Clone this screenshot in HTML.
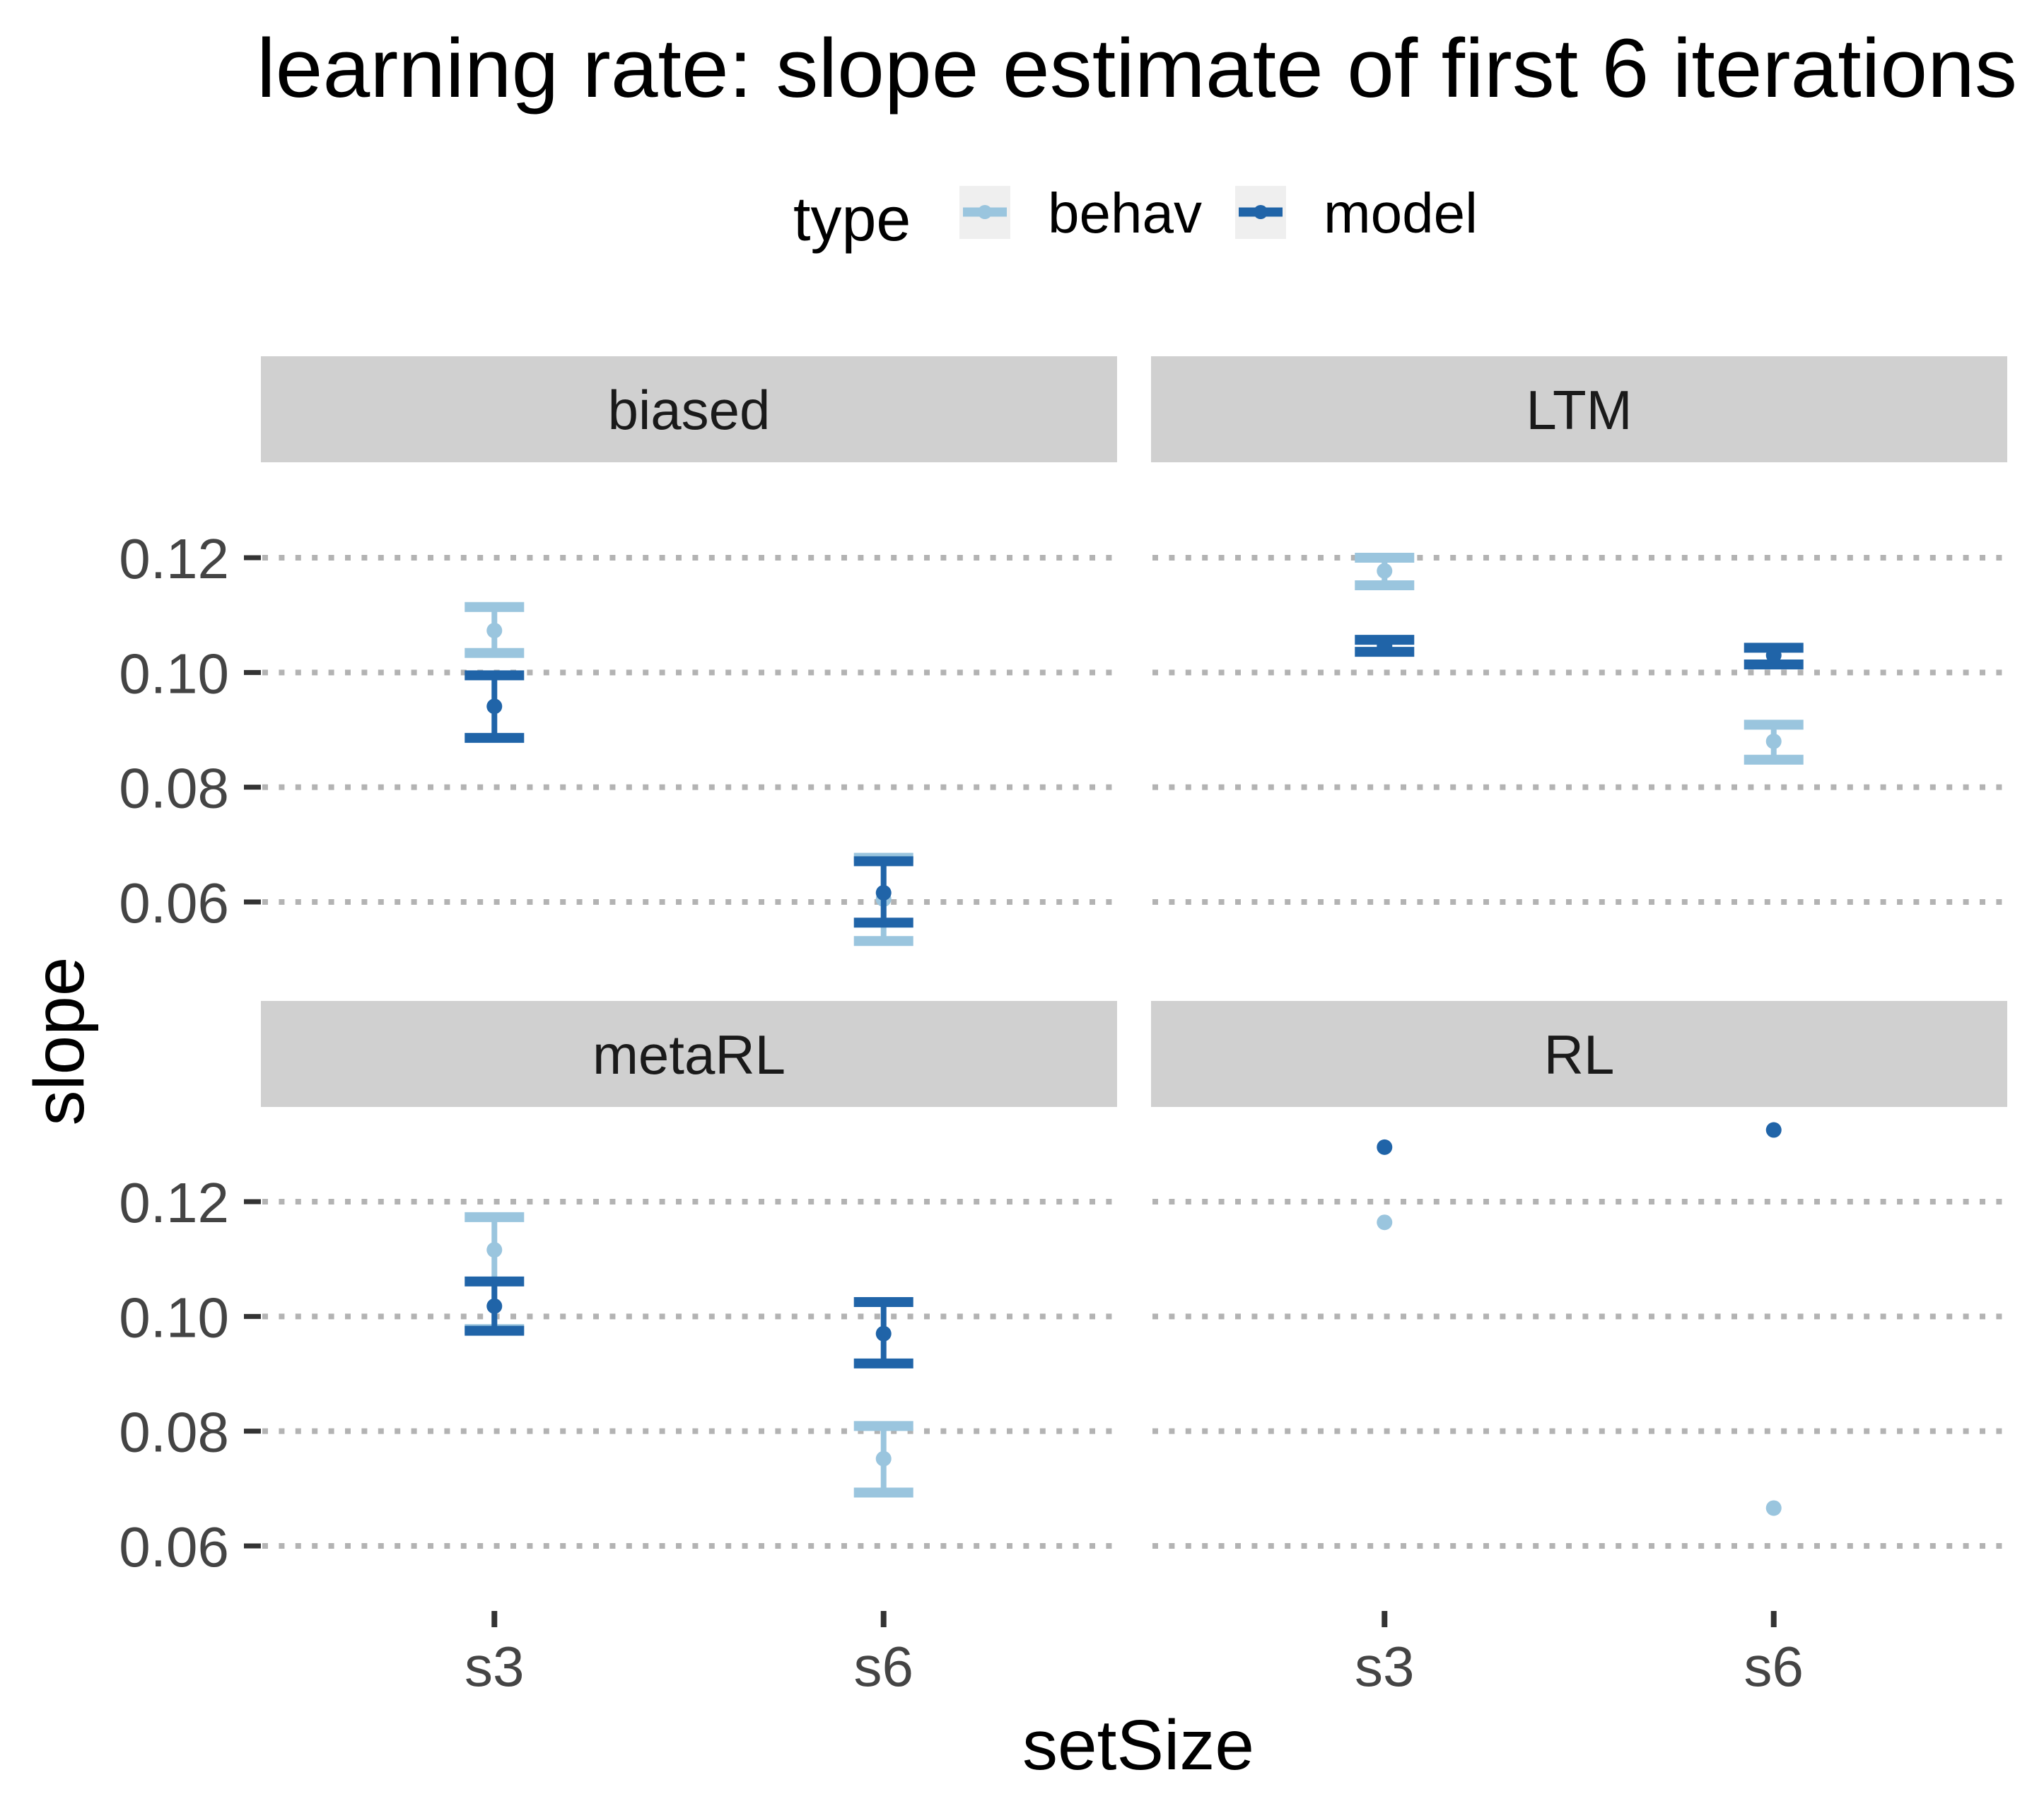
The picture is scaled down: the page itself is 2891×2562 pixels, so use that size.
<!DOCTYPE html>
<html><head><meta charset="utf-8"><style>
html,body{margin:0;padding:0;background:#fff;}
svg{display:block;font-family:"Liberation Sans",Arial,sans-serif;}
</style></head><body>
<svg id="chart" width="2891" height="2562" viewBox="0 0 2891 2562" xmlns="http://www.w3.org/2000/svg">
<rect width="2891" height="2562" fill="#fff"/>
<text x="363" y="137" font-size="118" textLength="2490" lengthAdjust="spacingAndGlyphs" fill="#000">learning rate: slope estimate of first 6 iterations</text>
<g>
<text x="1122" y="340" font-size="88" fill="#000">type</text>
<g>
<rect x="1357" y="263" width="72" height="75" fill="#efefef"/>
<line x1="1362" y1="300" x2="1424" y2="300" stroke="#9ac5de" stroke-width="13"/>
<circle cx="1393" cy="300" r="10" fill="#9ac5de"/>
<text x="1482" y="329" font-size="80" fill="#000">behav</text>
</g>
<g>
<rect x="1747" y="263" width="72" height="75" fill="#efefef"/>
<line x1="1752" y1="300" x2="1814" y2="300" stroke="#2064a8" stroke-width="13"/>
<circle cx="1783" cy="300" r="10" fill="#2064a8"/>
<text x="1872" y="329" font-size="80" fill="#000">model</text>
</g>
</g>
<text x="1610" y="2503" font-size="100" text-anchor="middle" fill="#000">setSize</text>
<text x="0" y="0" font-size="100" text-anchor="middle" fill="#000" transform="translate(118,1473) rotate(-90)">slope</text>
<g id="panels"></g>
</svg>
<script>
const panelNames = ["biased", "LTM", "metaRL", "RL"];
const categories = ["s3", "s6"];
const yTicks = [0.06, 0.08, 0.10, 0.12];
const yTickLabels = ["0.06", "0.08", "0.10", "0.12"];
// per panel, [s3, s6]; null = no error bar
const behavMean  = [[0.1073, 0.0605], [0.1177, 0.0880], [0.1116, 0.0752], [0.1164, 0.0666]];
const behavUpper = [[0.1114, 0.0677], [0.1200, 0.0909], [0.1173, 0.0809], [null, null]];
const behavLower = [[0.1034, 0.0532], [0.1152, 0.0848], [0.0978, 0.0693], [null, null]];
const modelMean  = [[0.0941, 0.0616], [0.1046, 0.1030], [0.1018, 0.0970], [0.1295, 0.1325]];
const modelUpper = [[0.0995, 0.0671], [0.1057, 0.1043], [0.1061, 0.1025], [null, null]];
const modelLower = [[0.0886, 0.0564], [0.1036, 0.1014], [0.0975, 0.0918], [null, null]];

const NS = "http://www.w3.org/2000/svg";
const root = document.getElementById("panels");
const colX = [369, 1628], panelW = 1211;
const stripTop = [504, 1416], stripH = 150;
const ref12 = [789, 1700], perUnit = 8117;
function mk(tag, attrs, parent) {
  const e = document.createElementNS(NS, tag);
  for (const k in attrs) e.setAttribute(k, attrs[k]);
  parent.appendChild(e);
  return e;
}
function xScale(col, i) { return colX[col] + panelW * (i + 0.6) / 2.2; }
function yScale(row, v) { return ref12[row] + (0.12 - v) * perUnit; }

panelNames.forEach((name, p) => {
  const col = p % 2, row = Math.floor(p / 2);
  const g = mk("g", {}, root);
  
  
  const strip = mk("rect", {x: colX[col], y: stripTop[row], width: panelW, height: stripH, fill: "#d0d0d0"}, g);
  
  
  const st = mk("text", {x: colX[col] + panelW / 2, y: stripTop[row] + 103, "font-size": 78, "text-anchor": "middle", fill: "#1a1a1a"}, g);
  st.textContent = name;
  
  
  yTicks.forEach((t, k) => {
    const y = yScale(row, t);
    const gl = mk("line", {x1: colX[col] + 2, x2: colX[col] + panelW, y1: y, y2: y, stroke: "#b3b3b3", "stroke-width": 8, "stroke-dasharray": "8 15.4"}, g);
    
    
    if (col === 0) {
      const tk = mk("line", {x1: 345, x2: 369, y1: y, y2: y, stroke: "#333", "stroke-width": 7}, g);
      
      
      const tl = mk("text", {x: 324, y: y + 29, "font-size": 80, "text-anchor": "end", fill: "#444"}, g);
      tl.textContent = yTickLabels[k];
      
      
    }
  });
  if (row === 1) {
    categories.forEach((c, i) => {
      const x = xScale(col, i);
      const tk = mk("line", {x1: x, x2: x, y1: 2279, y2: 2302, stroke: "#333", "stroke-width": 8}, g);
      
      
      const tl = mk("text", {x: x, y: 2385, "font-size": 80, "text-anchor": "middle", fill: "#444"}, g);
      tl.textContent = c;
      
      
    });
  }
  const series = [
    ["behav", "#9ac5de", behavMean, behavUpper, behavLower],
    ["model", "#2064a8", modelMean, modelUpper, modelLower]
  ];
  series.forEach(([sn, color, mean, up, lo]) => {
    categories.forEach((c, i) => {
      const x = xScale(col, i);
      if (up[p][i] !== null) {
        const yu = yScale(row, up[p][i]), yl = yScale(row, lo[p][i]);
        const eg = mk("g", {stroke: color}, g);
        
        
        mk("line", {x1: x, x2: x, y1: yu, y2: yl, "stroke-width": 8}, eg);
        mk("line", {x1: x - 42, x2: x + 42, y1: yu, y2: yu, "stroke-width": 14}, eg);
        mk("line", {x1: x - 42, x2: x + 42, y1: yl, y2: yl, "stroke-width": 14}, eg);
      }
      const pt = mk("circle", {cx: x, cy: yScale(row, mean[p][i]), r: 11, fill: color}, g);
      
      
    });
  });
});
</script>
</body></html>
